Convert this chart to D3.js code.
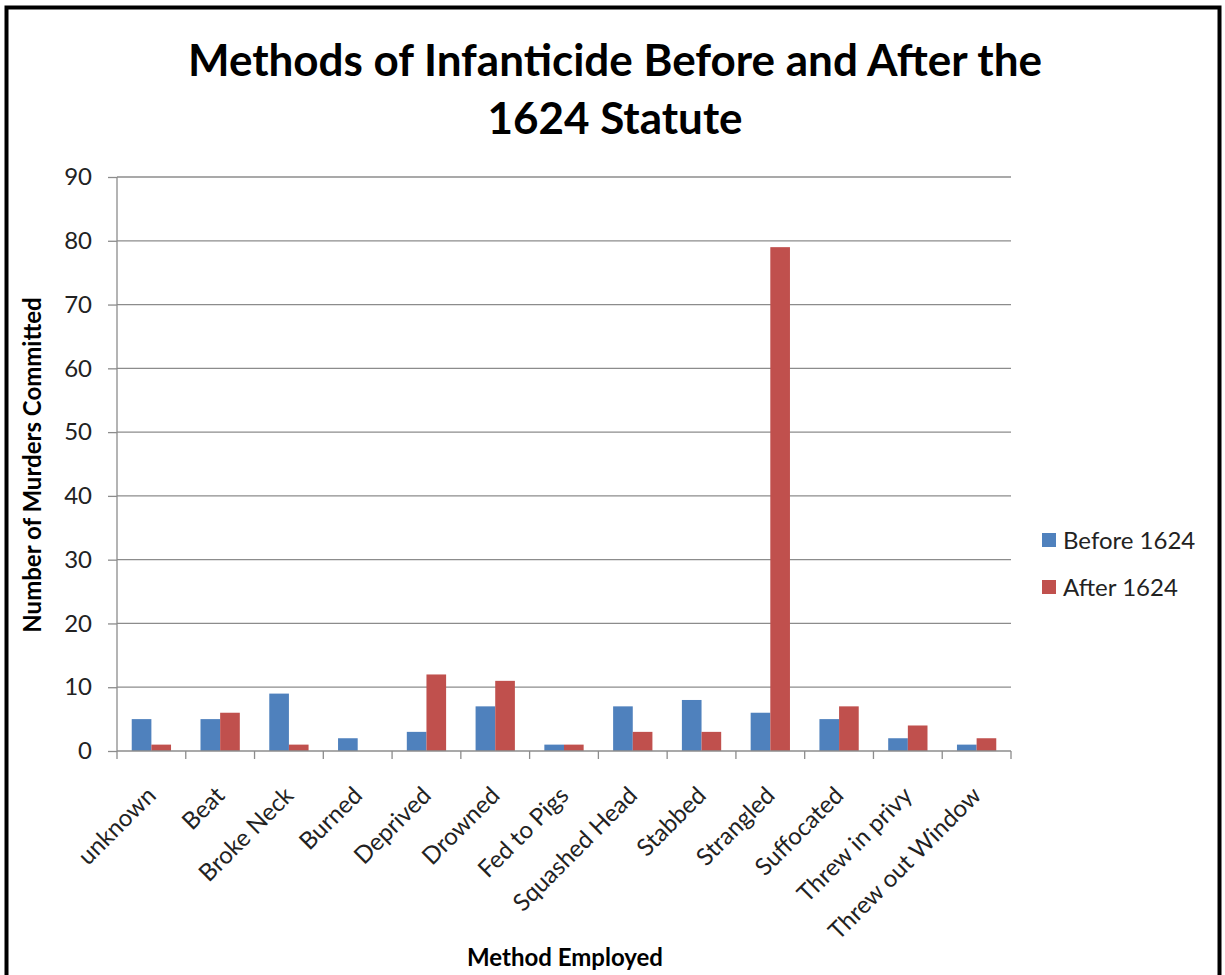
<!DOCTYPE html>
<html><head><meta charset="utf-8">
<script src="https://cdn.jsdelivr.net/npm/d3@7"></script>
<style>body{margin:0;background:#fff;} svg{display:block;}</style>
</head><body>
<script>
const categories = ["unknown","Beat","Broke Neck","Burned","Deprived","Drowned","Fed to Pigs","Squashed Head","Stabbed","Strangled","Suffocated","Threw in privy","Threw out Window"];
const before1624 = [5,5,9,2,3,7,1,7,8,6,5,2,1];
const after1624 = [1,6,1,0,12,11,1,3,3,79,7,4,2];
const seriesNames = ["Before 1624","After 1624"];
const yTicks = [0,10,20,30,40,50,60,70,80,90];

const W=1225,H=975;
const font="Lato, 'Open Sans', sans-serif";
const svg=d3.select("body").append("svg").attr("width",W).attr("height",H);
svg.append("rect").attr("x",6.5).attr("y",7.5).attr("width",1213).attr("height",975).attr("fill","#fff").attr("stroke","#000").attr("stroke-width",4);

const x0=d3.scaleBand().domain(categories).range([117,1011]).paddingInner(0.42857).paddingOuter(0.214285);
const xCat=d3.scaleBand().domain(categories).range([117,1011]);
const x1=d3.scaleBand().domain(seriesNames).range([0,x0.bandwidth()]);
const y=d3.scaleLinear().domain([0,90]).range([751,177]);
const colors=["#4F81BD","#C0504D"];

// gridlines
svg.append("g").selectAll("line").data(yTicks.slice(1)).join("line")
 .attr("x1",117).attr("x2",1011).attr("y1",d=>y(d)).attr("y2",d=>y(d))
 .attr("stroke","#8c8c8c").attr("stroke-width",1.3);

// bars
const data=categories.map((c,i)=>({c,vals:[before1624[i],after1624[i]]}));
const g=svg.append("g");
data.forEach(d=>{
  d.vals.forEach((v,j)=>{
    if(v<=0) return;
    g.append("rect").attr("x",x0(d.c)+x1(seriesNames[j])).attr("y",y(v)).attr("width",x1.bandwidth()).attr("height",y(0)-y(v)).attr("fill",colors[j]);
  });
});

// y axis
const yAxis=d3.axisLeft(y).tickValues(yTicks).tickSize(9).tickPadding(16);
const ya=svg.append("g").attr("transform","translate(117,0)").call(yAxis);
ya.select(".domain").attr("stroke","#8c8c8c").attr("stroke-width",1.3).attr("d","M0,"+y(90)+"V"+y(0));
ya.selectAll(".tick line").attr("stroke","#8c8c8c").attr("stroke-width",1.3);
ya.selectAll("text").attr("font-family",font).attr("font-size",24).attr("fill","#222");

// x axis
const xAxis=d3.axisBottom(xCat).tickSize(0).tickFormat("");
const xa=svg.append("g").attr("transform","translate(0,751)").call(xAxis);
xa.select(".domain").attr("stroke","#8c8c8c").attr("stroke-width",1.3).attr("d","M117,0H1011");
const tickPos=categories.map(c=>xCat(c)).concat([1011]);
xa.selectAll("line.tk").data(tickPos).join("line").attr("class","tk").attr("x1",d=>d).attr("x2",d=>d).attr("y1",0).attr("y2",8).attr("stroke","#8c8c8c").attr("stroke-width",1.3);
svg.append("g").selectAll("text").data(categories).join("text")
 .attr("transform",d=>`translate(${xCat(d)+xCat.bandwidth()/2+6},${797}) rotate(-45)`)
 .attr("text-anchor","end").attr("font-family",font).attr("font-size",24).attr("fill","#222").text(d=>d);

// title
const title=svg.append("text").attr("text-anchor","middle").attr("font-family",font).attr("font-weight","bold").attr("font-size",44).attr("fill","#000");
title.append("tspan").attr("x",615).attr("y",76).text("Methods of Infanticide Before and After the");
title.append("tspan").attr("x",615).attr("y",134).text("1624 Statute");

// axis titles
svg.append("text").attr("transform","translate(41,465) rotate(-90)").attr("text-anchor","middle").attr("font-family",font).attr("font-weight","bold").attr("font-size",24).text("Number of Murders Committed");
svg.append("text").attr("x",565).attr("y",966).attr("text-anchor","middle").attr("font-family",font).attr("font-weight","bold").attr("font-size",24).text("Method Employed");

// legend
const lg=svg.append("g");
seriesNames.forEach((s,i)=>{
  lg.append("rect").attr("x",1042).attr("y",533+i*47).attr("width",14).attr("height",14).attr("fill",colors[i]);
  lg.append("text").attr("x",1063).attr("y",549+i*47).attr("font-family",font).attr("font-size",24).attr("fill","#222").text(s);
});
</script>
</body></html>
